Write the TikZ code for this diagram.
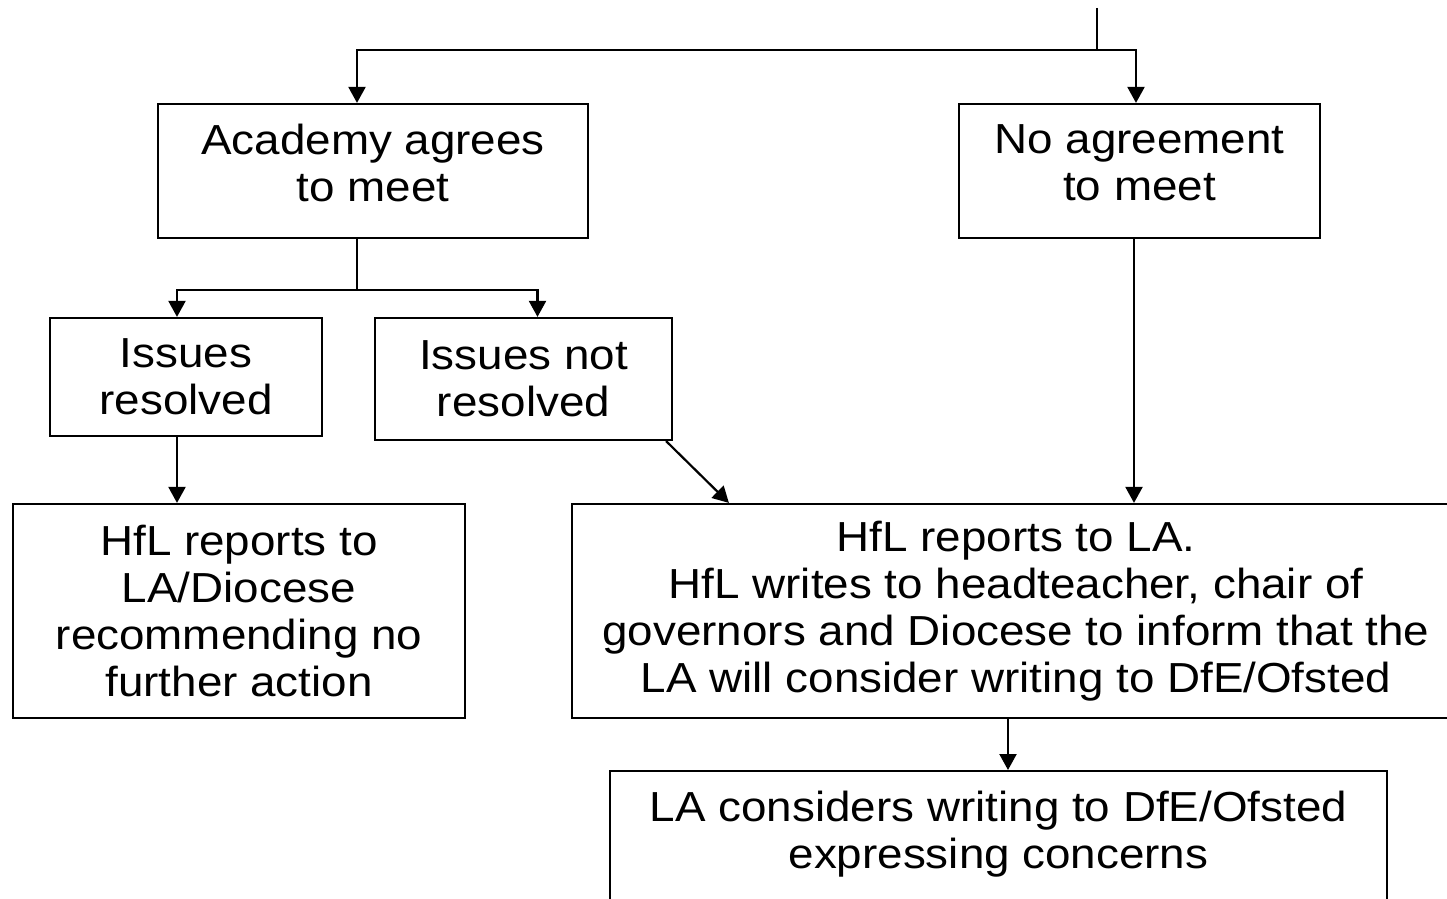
\documentclass[tikz,border=0pt]{standalone}
\usepackage{fontspec}
\setmainfont{Liberation Sans}[FakeStretch=1.09]
\usepackage{tikz}
\usetikzlibrary{
    arrows.meta
}

\begin{document}
\begin{tikzpicture}[x=0.5pt,y=-0.5pt,>={Triangle[length=8pt,width=8.5pt]},line width=1.1pt]
    \tikzstyle{box}=[draw, rectangle, align=center, inner sep=0pt, font=\fontsize{21}{23.5}\selectfont]
    \useasboundingbox (0,0) rectangle (1447,899);
    \clip (0,0) rectangle (1447,899);
    \node[box, minimum width=215pt, minimum height=67pt, text depth=8pt] (agree) at (373, 171){Academy agrees\\to meet};
    \node[box, minimum width=180.5pt, minimum height=67pt, text depth=8pt] (noagree) at (1139.5, 171){No agreement\\to meet};
    \node[box, minimum width=136pt, minimum height=59pt] (res) at (186, 377){Issues\\resolved};
    \node[box, minimum width=148.5pt, minimum height=61pt] (notres) at (523.5, 379){Issues not\\resolved};
    \node[box, minimum width=226pt, minimum height=107pt] (nfa) at (239, 611){HfL reports to\\LA/Diocese\\recommending no\\further action};
    \node[box, minimum width=444pt, minimum height=107pt] (report) at (1016, 611){HfL reports to LA.\\HfL writes to headteacher, chair of\\governors and Diocese to inform that the\\LA will consider writing to DfE/Ofsted};
    \node[box, anchor=north, minimum width=388.5pt, inner ysep=10pt, text depth=60pt] (consider) at (998.5, 770){LA considers writing to DfE/Ofsted\\expressing concerns};
    \coordinate (start) at (1097, 8);
    \coordinate (split) at (1097, 50);
    \coordinate (fork) at (357, 290);
    \draw (start) -- (split);
    \draw[->] (split) -| ([xshift=-8pt]agree.north);
    \draw[->] (split) -| ([xshift=-1.75pt]noagree.north);
    \draw ([xshift=-8pt]agree.south) -- (fork);
    \draw[->] (fork) -| ([xshift=-4.5pt]res.north);
    \draw[->] (fork) -| ([xshift=7pt]notres.north);
    \draw[->] ([xshift=-4.5pt]res.south) -- ([xshift=-4.5pt]res.south |- nfa.north);
    \draw[->] ([xshift=-3.5pt]notres.south east) -- ([xshift=79pt]report.north west);
    \draw[->] ([xshift=-2.75pt]noagree.south) -- ([xshift=-2.75pt]noagree.south |- report.north);
    \draw[->] ([xshift=-4pt]report.south) -- ([xshift=-4pt]report.south |- consider.north);
\end{tikzpicture}
\end{document}
